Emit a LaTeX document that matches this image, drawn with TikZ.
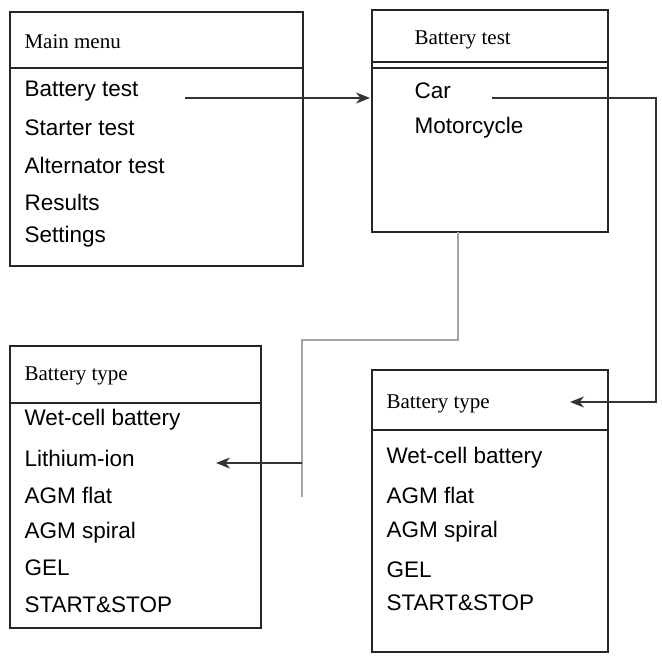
\documentclass[tikz,border=0pt]{standalone}
\usepackage{fontspec}
\setmainfont{Liberation Serif}
\newfontfamily\sansf{Liberation Sans}
\usetikzlibrary{arrows.meta}
\begin{document}
\begin{tikzpicture}[x=1pt,y=-1pt,
 box/.style={draw=black!85,line width=1.2pt},
 ttl/.style={anchor=west,font=\fontsize{21}{24}\selectfont},
 itm/.style={anchor=west,font=\sansf\fontsize{22.5}{26}\selectfont},
 arr/.style={line width=1.8pt,black!80,-{Stealth[length=14pt,width=11pt]}},
 gline/.style={line width=1.8pt,black!35}]
\useasboundingbox (0,0) rectangle (662,656);
% Main menu
\draw[box] (10,12) rectangle (303,266); \draw[box] (10,68)--(303,68);
\node[ttl] (mt) at (21,42) {Main menu};
\node[itm] (m1) at (21,91) {Battery test};
\node[itm] (m2) at (21,128) {Starter test};
\node[itm] (m3) at (21,165) {Alternator test};
\node[itm] (m4) at (21,202) {Results};
\node[itm] (m5) at (21,237) {Settings};
% Battery test
\draw[box] (372,10) rectangle (608,232); \draw[box] (372,62)--(608,62); \draw[box] (372,68)--(608,68);
\node[ttl] (bt) at (411,40) {Battery test};
\node[itm] (car) at (411,91) {Car};
\node[itm] (moto) at (411,128) {Motorcycle};
% Bottom left
\draw[box] (10,346) rectangle (261,628); \draw[box] (10,403)--(261,403);
\node[ttl] (lt) at (21,376) {Battery type};
\node[itm] (l1) at (21,420) {Wet-cell battery};
\node[itm] (l2) at (21,458) {Lithium-ion};
\node[itm] (l3) at (21,495) {AGM flat};
\node[itm] (l4) at (21,533) {AGM spiral};
\node[itm] (l5) at (21,568) {GEL};
\node[itm] (l6) at (21,605) {START\&STOP};
% Bottom right
\draw[box] (372,370) rectangle (608,652); \draw[box] (372,430)--(608,430);
\node[ttl] (rt) at (383,404) {Battery type};
\node[itm] (r1) at (383,458) {Wet-cell battery};
\node[itm] (r2) at (383,495) {AGM flat};
\node[itm] (r3) at (383,532) {AGM spiral};
\node[itm] (r4) at (383,570) {GEL};
\node[itm] (r5) at (383,603) {START\&STOP};
% connectors
\coordinate (a1) at (185,98); \coordinate (a2) at (370,98);
\draw[arr] (a1)--(a2);
\coordinate (c1) at (492,98); \coordinate (c2) at (570,402);
\draw[arr] (c1)--(656,98)--(656,402)--(c2);
\coordinate (g1) at (458,232); \coordinate (g2) at (302,497);
\draw[gline] (g1)--(458,340)--(302,340)--(g2);
\coordinate (h1) at (302,463); \coordinate (h2) at (216,463);
\draw[arr] (h1)--(h2);
\end{tikzpicture}
\end{document}
